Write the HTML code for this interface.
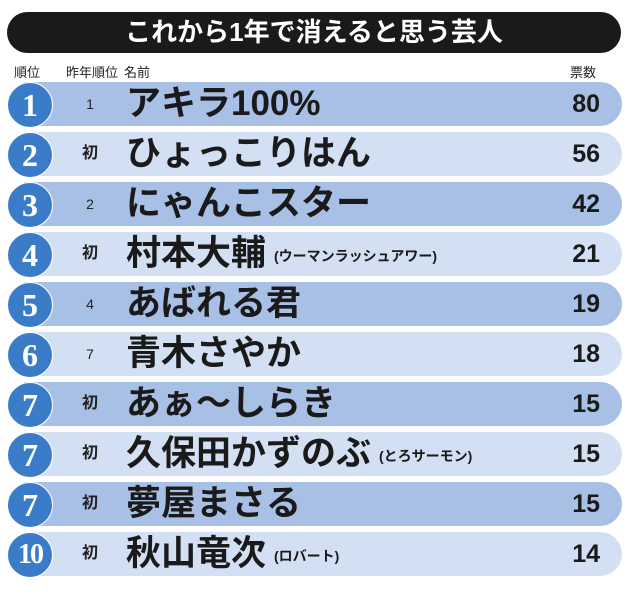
<!DOCTYPE html>
<html><head><meta charset="utf-8"><style>
body{margin:0;width:630px;height:596px;background:#fff;position:relative;overflow:hidden;font-family:"Liberation Sans","Noto Sans CJK JP",sans-serif;}
.title{position:absolute;left:7px;top:12px;width:614px;height:41px;background:#1a1a1a;border-radius:21px;color:#fff;font-weight:bold;font-size:26px;text-align:center;line-height:41px;}
.h{position:absolute;top:62px;font-size:13px;color:#222;}
.bar{position:absolute;left:24px;width:598px;height:44px;border-radius:0 22px 22px 0;}
.d{background:#a9c0e6}.l{background:#d3dff3}
.c{position:absolute;left:7px;width:44px;height:44px;border-radius:50%;background:#3b7cc8;border:1px solid #fff;color:#fff;font-family:"Liberation Serif",serif;font-weight:bold;font-size:32px;text-align:center;line-height:44px;}
.p{position:absolute;left:78px;width:24px;text-align:center;font-size:15px;color:#222;line-height:44px;}
.p.n{font-size:14px;font-weight:normal}
.p.f{font-weight:bold;font-size:16px}
.nm{position:absolute;left:126px;font-size:35px;font-weight:bold;color:#1a1a1a;line-height:44px;white-space:nowrap;}
.nm small{font-size:14px;font-weight:bold;margin-left:8px;vertical-align:4px}
.v{position:absolute;right:30px;font-size:25px;font-weight:bold;color:#1a1a1a;line-height:44px;}
</style></head><body>
<div class="title">これから1年で消えると思う芸人</div>
<div class="h" style="left:14px">順位</div>
<div class="h" style="left:66px">昨年順位</div>
<div class="h" style="left:124px">名前</div>
<div class="h" style="left:570px">票数</div>

<div class="bar d" style="top:82px"></div><div class="c" style="top:82px">1</div><div class="p n" style="top:82px">1</div><div class="nm" style="top:82px">アキラ100%</div><div class="v" style="top:82px">80</div>
<div class="bar l" style="top:132px"></div><div class="c" style="top:132px">2</div><div class="p f" style="top:132px">初</div><div class="nm" style="top:132px">ひょっこりはん</div><div class="v" style="top:132px">56</div>
<div class="bar d" style="top:182px"></div><div class="c" style="top:182px">3</div><div class="p n" style="top:182px">2</div><div class="nm" style="top:182px">にゃんこスター</div><div class="v" style="top:182px">42</div>
<div class="bar l" style="top:232px"></div><div class="c" style="top:232px">4</div><div class="p f" style="top:232px">初</div><div class="nm" style="top:232px">村本大輔<small>(ウーマンラッシュアワー)</small></div><div class="v" style="top:232px">21</div>
<div class="bar d" style="top:282px"></div><div class="c" style="top:282px">5</div><div class="p n" style="top:282px">4</div><div class="nm" style="top:282px">あばれる君</div><div class="v" style="top:282px">19</div>
<div class="bar l" style="top:332px"></div><div class="c" style="top:332px">6</div><div class="p n" style="top:332px">7</div><div class="nm" style="top:332px">青木さやか</div><div class="v" style="top:332px">18</div>
<div class="bar d" style="top:382px"></div><div class="c" style="top:382px">7</div><div class="p f" style="top:382px">初</div><div class="nm" style="top:382px">あぁ～しらき</div><div class="v" style="top:382px">15</div>
<div class="bar l" style="top:432px"></div><div class="c" style="top:432px">7</div><div class="p f" style="top:432px">初</div><div class="nm" style="top:432px">久保田かずのぶ<small>(とろサーモン)</small></div><div class="v" style="top:432px">15</div>
<div class="bar d" style="top:482px"></div><div class="c" style="top:482px">7</div><div class="p f" style="top:482px">初</div><div class="nm" style="top:482px">夢屋まさる</div><div class="v" style="top:482px">15</div>
<div class="bar l" style="top:532px"></div><div class="c" style="top:532px;font-size:28px;letter-spacing:-2px">10</div><div class="p f" style="top:532px">初</div><div class="nm" style="top:532px">秋山竜次<small>(ロバート)</small></div><div class="v" style="top:532px">14</div>
</body></html>
